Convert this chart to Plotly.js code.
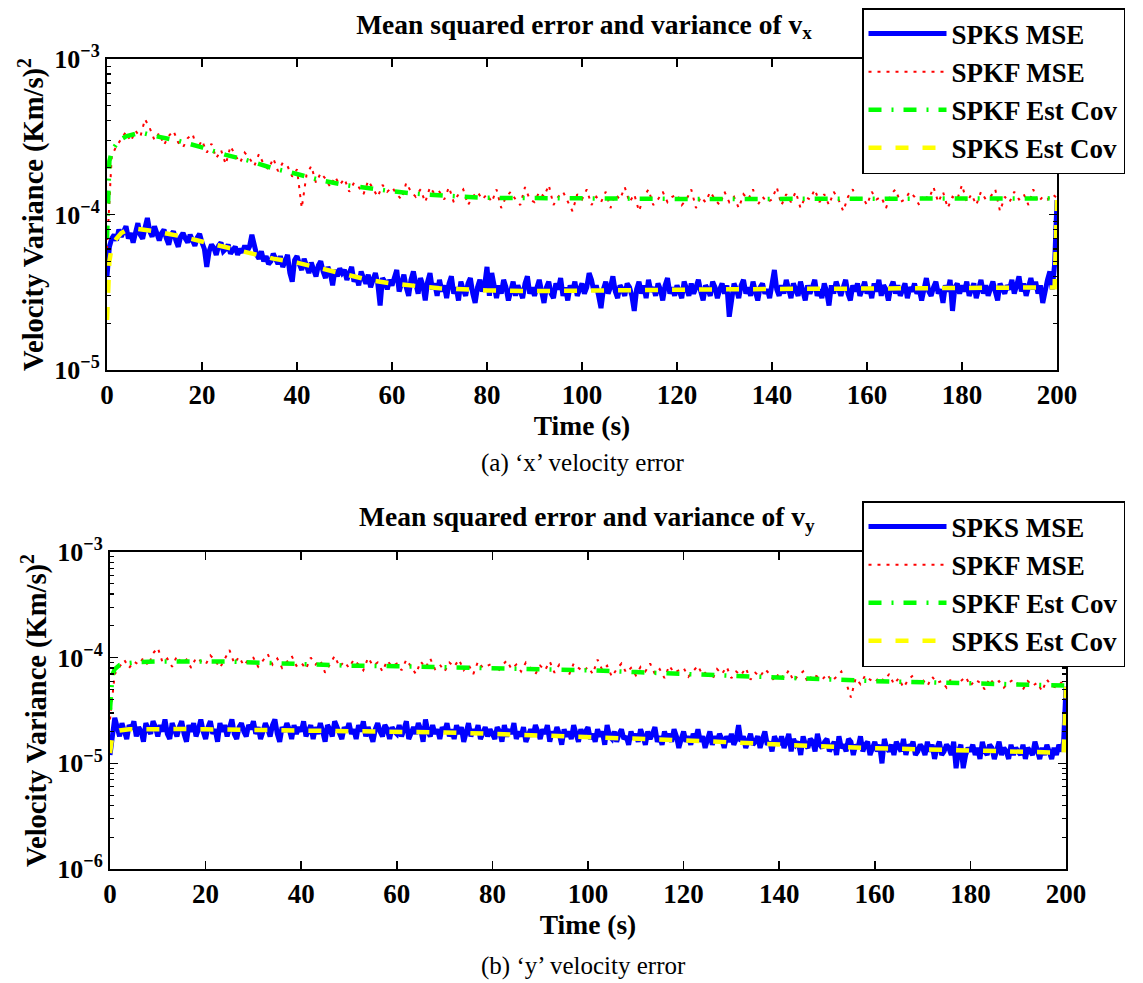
<!DOCTYPE html>
<html>
<head>
<meta charset="utf-8">
<script src="https://cdn.plot.ly/plotly-3.0.1.min.js"></script>
<style>
html,body{margin:0;padding:0;background:#fff;}
#chart{width:1143px;height:983px;}
</style>
</head>
<body>
<div id="chart"></div>
<script>
// ---------------- DATA (values in units of 1e-6 (Km/s)^2) ----------------
const UNIT = 1e-6;
const DT_SMOOTHER = 0.5;   // sample step (s) of the SPKS MSE series
const DT_FILTER = 1;       // sample step (s) of the SPKF MSE series

const seriesNames = ['SPKS MSE', 'SPKF MSE', 'SPKF Est Cov', 'SPKS Est Cov'];
const timeTicks = [0, 20, 40, 60, 80, 100, 120, 140, 160, 180, 200];

// (a) x velocity
const vxSpksMse = [
 40,62,70,74,68,80,72,77,84,70,76,66,80,88,74,70,82,95,78,72,
 84,73,68,76,80,70,64,74,78,68,62,72,76,70,66,74,69,63,71,75,
 66,60,46,58,64,61,55,63,66,58,60,64,56,59,62,55,60,57,63,58,
 62,74,64,55,52,58,50,54,48,50,56,52,48,54,46,50,55,42,37,51,
 54,48,44,52,46,42,49,45,40,47,50,43,39,46,42,35,44,40,45,42,
 44,38,42,46,37,40,35,43,39,36,41,34,38,42,36,26,39,37,33,38,
 35,40,44,32,37,41,34,30,38,43,36,31,39,35,28,37,42,33,36,30,
 38,32,35,29,36,40,31,34,28,37,33,30,36,39,31,27,34,38,32,35,
 46,30,42,33,29,35,31,38,34,28,33,37,30,35,32,29,36,40,31,34,
 30,35,38,32,27,34,37,31,29,36,33,39,30,34,28,35,32,37,30,33,
 36,31,34,42,38,32,35,30,25,33,37,31,34,40,32,29,35,33,30,36,
 34,30,24,33,37,31,35,29,38,32,34,30,36,33,28,35,39,31,34,30,
 35,32,29,37,33,30,36,31,34,38,32,28,35,33,30,37,34,29,33,36,
 31,35,22,30,36,33,29,35,38,31,34,30,37,32,28,34,36,31,33,29,
 36,44,33,30,35,31,38,34,29,36,32,30,37,33,28,35,31,34,38,30,
 33,29,36,32,26,35,31,37,33,30,34,38,31,28,35,32,36,30,33,37,
 31,34,29,36,32,38,30,35,33,28,34,37,31,35,30,33,36,29,34,32,
 36,31,33,28,35,39,32,30,34,37,31,33,27,35,32,38,24,34,36,31,
 35,32,37,30,33,36,29,34,38,31,35,30,33,37,32,28,36,34,31,35,
 33,38,31,35,40,32,36,30,34,39,33,37,31,35,27,34,38,43,33,48,
 124
];
const vxSpkfMse = [
 60,240,275,305,340,295,345,315,410,360,
 300,335,280,320,345,290,270,310,330,265,
 300,250,285,230,260,210,275,240,215,250,
 230,205,245,210,195,230,190,215,205,175,
 195,110,180,205,160,185,170,150,175,155,
 170,140,160,150,135,165,145,130,155,140,
 150,135,125,160,140,130,145,120,150,135,
 140,125,150,120,135,145,115,130,140,125,
 135,120,145,110,130,140,125,115,150,125,
 120,140,130,155,115,130,140,120,105,135,
 125,145,115,130,120,140,110,135,125,150,
 120,135,105,130,145,115,125,140,120,130,
 135,115,125,145,110,130,120,140,125,115,
 140,120,130,110,135,125,145,115,130,120,
 125,150,115,135,120,140,110,130,125,145,
 120,135,115,140,125,105,130,145,120,130,
 115,140,125,130,110,135,145,120,125,140,
 130,115,135,125,150,120,140,110,130,125,
 155,120,135,115,140,125,130,145,105,130,
 120,140,125,135,115,145,120,130,125,135,
 128
];
const vxSpkfCovTime = [0,0.5,1,2,3,4,6,8,10,15,20,25,30,35,40,45,50,55,60,65,70,75,80,90,100,120,140,160,180,200];
const vxSpkfCov     = [70,220,255,285,305,318,330,332,320,298,270,242,221,198,182,166,155,147,141,136,132,130,128,127,126,126,126,127,127,127];
const vxSpksCovTime = [0,0.5,1,2,3,4,6,8,10,15,20,25,30,35,40,45,50,55,60,65,70,75,80,90,100,120,140,160,180,199.5,200];
const vxSpksCov     = [21,50,62,70,76,79,81,80,78,73,67,62,57,52,49,45,41,38,36,34.5,33.5,33,32.5,32.2,32.5,33,33.2,33.4,33.5,34,124];

// (b) y velocity
const vySpksMse = [
 12,19,27,22,18,24,20,17,23,21,25,18,22,20,16,24,21,19,25,22,
 18,23,20,26,19,17,24,21,18,22,25,19,16,23,20,24,18,21,26,20,
 17,22,25,19,21,16,24,20,23,18,21,26,19,17,22,24,20,18,23,21,
 25,19,22,17,20,24,21,18,23,26,19,16,22,20,24,21,17,23,19,22,
 20,25,18,21,23,17,22,19,24,20,16,23,21,18,25,22,19,17,22,20,
 24,19,21,17,23,20,25,18,22,19,16,21,24,20,18,23,21,17,22,20,
 19,23,18,21,25,17,20,22,19,24,21,16,26,20,18,23,19,21,17,22,
 20,24,18,21,17,23,19,22,16,20,24,18,21,19,23,17,20,22,18,21,
 19,17,22,20,16,23,18,21,19,24,17,20,18,22,16,19,21,18,23,20,
 17,21,19,23,16,20,18,22,19,15,21,18,20,17,23,19,16,21,18,20,
 22,17,19,16,21,18,20,15,23,18,17,20,16,19,21,17,18,15,20,17,
 19,16,21,18,15,20,17,19,22,16,18,15,20,17,19,16,21,18,14,17,
 20,16,18,15,19,17,21,16,18,14,17,20,15,18,16,19,17,14,18,16,
 19,15,17,23,16,18,14,17,19,15,16,18,14,17,20,15,16,13,18,16,
 15,18,14,16,19,13,17,15,16,12,18,15,14,17,16,13,19,15,14,16,
 17,13,15,16,12,18,14,15,13,17,16,12,15,14,18,13,15,16,12,14,
 16,13,15,10,17,14,13,15,12,16,14,13,17,12,15,14,16,12,13,15,
 14,12,16,13,15,11,14,16,12,13,15,14,12,16,9,13,15,9,12,14,
 13,15,12,14,11,16,13,12,15,14,11,13,16,12,14,13,11,15,12,14,
 13,12,15,11,14,13,12,16,13,11,14,12,15,13,11,14,12,15,13,16,
 53
];
const vySpkfMse = [
 26,70,82,95,80,92,86,100,84,110,
 124,90,98,82,104,88,96,80,100,92,
 86,105,94,80,98,118,88,102,84,96,
 100,82,94,108,86,98,80,92,104,84,
 90,78,100,86,95,72,88,104,82,92,
 80,96,86,76,100,84,90,74,94,82,
 88,76,96,82,70,92,80,98,78,86,
 74,90,82,96,76,86,70,92,80,84,
 88,72,84,94,78,86,74,90,80,70,
 84,76,92,72,86,78,68,88,80,74,
 82,70,96,76,84,66,78,88,72,80,
 68,82,74,88,70,78,64,84,72,76,
 80,66,74,84,68,76,62,78,70,82,
 64,74,68,80,62,72,66,78,70,60,
 72,64,76,60,68,74,58,70,66,62,
 70,60,66,74,58,42,64,56,68,62,
 58,66,60,70,56,64,52,62,68,58,
 62,54,66,58,60,52,64,56,60,66,
 54,62,58,50,64,56,60,52,58,62,
 56,50,60,54,58,48,62,54,52,58,
 55
];
const vySpkfCovTime = [0,0.5,1,2,4,6,10,15,20,25,30,40,50,60,70,80,90,100,110,120,130,140,150,160,170,180,190,200];
const vySpkfCov     = [32,69,78,85,89,91,92,92.5,93,92,90,86,84,83,81.5,80,78,76,73,70,67,64.5,62,60,58.5,57,55.5,54.5];
const vySpksCovTime = [0,0.5,1,2,4,6,10,15,20,30,40,50,60,70,80,90,100,110,120,130,140,150,160,170,180,190,199.5,200];
const vySpksCov     = [12.5,18.5,19.8,20.5,21,21.1,21.1,21.1,21.0,20.8,20.6,20.4,20.1,19.6,19.0,18.4,17.9,17.1,16.5,15.8,15.0,14.4,13.9,13.5,13.2,12.9,12.6,53];

// ---------------- helpers ----------------
const scale = arr => arr.map(v => v * UNIT);
const sampleTimes = (arr, dt) => arr.map((_, i) => i * dt);

const FONT = 'Liberation Serif';
const BLACK = '#000000';
const STYLES = [
  {color: 'rgb(0,0,255)',   width: 5,   dash: 'solid'},
  {color: 'rgb(255,0,0)',   width: 2,   dash: '3px,6px'},
  {color: 'rgb(0,255,0)',   width: 4.5, dash: '13px,10px,2px,10px'},
  {color: 'rgb(255,255,0)', width: 4.5, dash: '13px,14px'}
];

function panelTraces(mseS, mseF, covFt, covF, covSt, covS, xa, ya, legendId) {
  const xs = [sampleTimes(mseS, DT_SMOOTHER), sampleTimes(mseF, DT_FILTER), covFt, covSt];
  const ys = [scale(mseS), scale(mseF), scale(covF), scale(covS)];
  return xs.map((x, i) => ({
    type: 'scatter', mode: 'lines', x: x, y: ys[i],
    name: seriesNames[i], xaxis: xa, yaxis: ya,
    legend: legendId, legendgroup: legendId + i,
    line: {color: STYLES[i].color, width: STYLES[i].width, dash: STYLES[i].dash},
    hoverinfo: 'skip'
  }));
}

const traces = [
  ...panelTraces(vxSpksMse, vxSpkfMse, vxSpkfCovTime, vxSpkfCov, vxSpksCovTime, vxSpksCov, 'x', 'y', 'legend'),
  ...panelTraces(vySpksMse, vySpkfMse, vySpkfCovTime, vySpkfCov, vySpksCovTime, vySpksCov, 'x2', 'y2', 'legend2')
];

function decadeTicks(lo, hi) {
  const major = [], text = [], minor = [];
  for (let e = lo; e <= hi; e++) {
    major.push(Math.pow(10, e));
    text.push('10<sup>\u2212' + Math.abs(e) + '</sup>');
    if (e < hi) for (let m = 2; m <= 9; m++) minor.push(m * Math.pow(10, e));
  }
  return {major, text, minor};
}

const W = 1143, H = 983;
const xTickFont = {family: FONT, size: 27, weight: 'bold', color: BLACK};
const yTickFont = {family: FONT, size: 26, weight: 'bold', color: BLACK};
const titleFont = {family: FONT, size: 27.5, weight: 'bold', color: BLACK};
const yTitleFont = {family: FONT, size: 28.5, weight: 'bold', color: BLACK};

function xAxis(domain, anchor) {
  return {
    domain: domain, anchor: anchor, range: [0, 200],
    tickmode: 'array', tickvals: timeTicks, ticktext: timeTicks.map(String),
    ticks: 'inside', ticklen: 8, tickwidth: 1.5, tickcolor: BLACK,
    mirror: 'ticks', showline: true, linewidth: 2, linecolor: BLACK,
    showgrid: false, zeroline: false, tickfont: xTickFont,
    title: {text: 'Time (s)', font: titleFont, standoff: 0}
  };
}
function yAxis(domain, anchor, lo, hi) {
  const t = decadeTicks(lo, hi);
  return {
    domain: domain, anchor: anchor, type: 'log', range: [lo, hi],
    tickmode: 'array', tickvals: t.major, ticktext: t.text,
    ticks: 'inside', ticklen: 8, tickwidth: 1.5, tickcolor: BLACK,
    minor: {tickmode: 'array', tickvals: t.minor, ticks: 'inside', ticklen: 4, tickwidth: 1.2, tickcolor: BLACK, showgrid: false},
    mirror: 'ticks', showline: true, linewidth: 2, linecolor: BLACK,
    showgrid: false, zeroline: false, tickfont: yTickFont,
    title: {text: 'Velocity Variance (Km/s)<sup>2</sup>', font: yTitleFont, standoff: 2}
  };
}

const legendBase = {
  xref: 'paper', yref: 'paper', xanchor: 'left', yanchor: 'top',
  bgcolor: '#ffffff', bordercolor: BLACK, borderwidth: 1.5,
  font: {family: FONT, size: 27, weight: 'bold', color: BLACK},
  tracegroupgap: 0, itemwidth: 78
};

const layout = {
  width: W, height: H,
  margin: {l: 0, r: 0, t: 0, b: 0},
  paper_bgcolor: '#ffffff', plot_bgcolor: '#ffffff',
  showlegend: true, hovermode: false,
  font: {family: FONT, color: BLACK},
  title: {
    text: 'Mean squared error and variance of v<sub>x</sub>',
    font: titleFont, x: 584 / W, xanchor: 'center', xref: 'paper',
    y: 1 - 24 / H, yanchor: 'middle', yref: 'paper'
  },
  xaxis: xAxis([107 / W, 1057 / W], 'y'),
  yaxis: yAxis([1 - 370 / H, 1 - 59 / H], 'x', -5, -3),
  xaxis2: xAxis([110 / W, 1066 / W], 'y2'),
  yaxis2: yAxis([1 - 869 / H, 1 - 552 / H], 'x2', -6, -3),
  legend: Object.assign({}, legendBase, {x: 862 / W, y: 1 - 8 / H}),
  legend2: Object.assign({}, legendBase, {x: 862 / W, y: 1 - 501 / H}),
  annotations: [
    {text: 'Mean squared error and variance of v<sub>y</sub>', xref: 'paper', yref: 'paper',
     x: 587 / W, y: 1 - 518 / H, xanchor: 'center', yanchor: 'middle', showarrow: false, font: titleFont},
    {text: '(a) \u2018x\u2019 velocity error', xref: 'paper', yref: 'paper',
     x: 583 / W, y: 1 - 463 / H, xanchor: 'center', yanchor: 'middle', showarrow: false,
     font: {family: FONT, size: 25, color: BLACK}},
    {text: '(b) \u2018y\u2019 velocity error', xref: 'paper', yref: 'paper',
     x: 583 / W, y: 1 - 966 / H, xanchor: 'center', yanchor: 'middle', showarrow: false,
     font: {family: FONT, size: 25, color: BLACK}}
  ]
};

Plotly.newPlot('chart', traces, layout, {staticPlot: true, displayModeBar: false});
</script>
</body>
</html>
